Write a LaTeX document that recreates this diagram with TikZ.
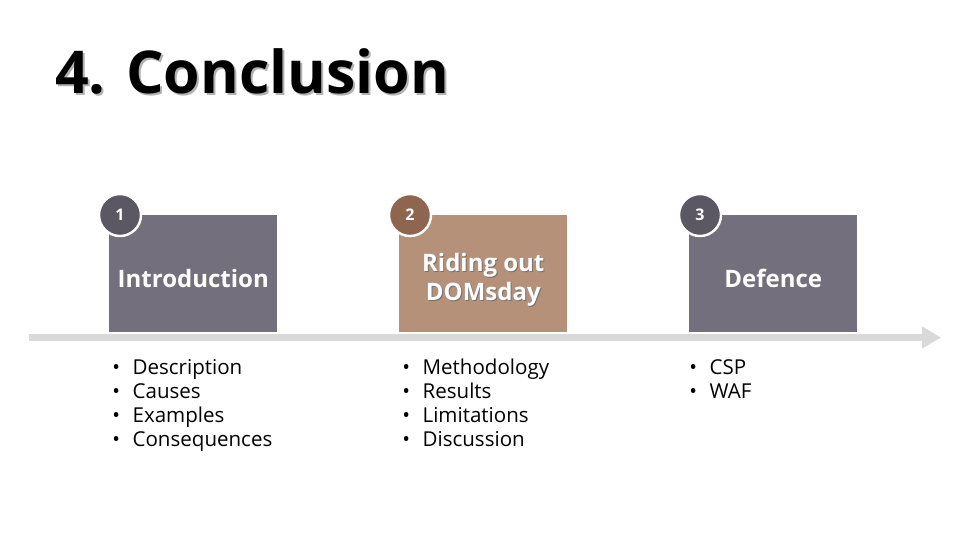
\documentclass[tikz,border=0pt]{standalone}
\usepackage{fontspec}
\setmainfont{Open Sans}
\usetikzlibrary{arrows.meta}
\definecolor{boxgray}{HTML}{736F7C}
\definecolor{boxbrown}{HTML}{B5917A}
\definecolor{circgray}{HTML}{5C5863}
\definecolor{circbrown}{HTML}{8E6650}
\definecolor{linegray}{HTML}{D9D9D9}
\tikzset{
  card/.style={minimum width=168*0.75pt, minimum height=117*0.75pt, inner sep=0pt, anchor=north west},
  badge/.style={circle, minimum size=42*0.75pt, inner sep=0pt, draw=white, line width=1.8pt, text=white, font=\bfseries\fontsize{12}{14}\selectfont},
  cardtext/.style={text=white, font=\bfseries\fontsize{18}{21.75}\selectfont, align=center},
  shadowtext/.style={text=black!55, font=\bfseries\fontsize{18}{21.75}\selectfont, align=center},
  bullets/.style={anchor=north west, align=left, font=\fontsize{15.4}{18}\selectfont, inner sep=0pt},
}
\newcommand{\blist}[1]{\begin{tabular}{@{}l@{\hspace{9.5pt}}l@{}}#1\end{tabular}}
\begin{document}
\begin{tikzpicture}[x=0.75pt, y=-0.75pt]
\useasboundingbox (0,0) rectangle (960,540);
% title
\node[anchor=west, inner sep=0pt, text=black!30, font=\bfseries\fontsize{44.3}{52}\selectfont] at (57,73) {4. Conclusion};
\node[anchor=west, inner sep=0pt, font=\bfseries\fontsize{44.3}{52}\selectfont] (title) at (55,71) {4. Conclusion};
% timeline arrow
\coordinate (tstart) at (29,337.5);
\coordinate (tend) at (941,337.5);
\draw[linegray, line width=7*0.75pt, -{Triangle[length=19*0.75pt, width=21*0.75pt]}] (tstart) -- (tend);
% cards
\node[card, fill=boxgray] (c1) at (109,215) {};
\node[card, fill=boxbrown] (c2) at (399,215) {};
\node[card, fill=boxgray] (c3) at (689,215) {};
% card labels
\node[shadowtext] at ([shift={(1,6)}]c1.center) {Introduction};
\node[cardtext] (l1) at ([shift={(0,5)}]c1.center) {Introduction};
\node[shadowtext] at ([shift={(1,7)}]c2.center) {Riding out\\DOMsday};
\node[cardtext] (l2) at ([shift={(0,6)}]c2.center) {Riding out\\DOMsday};
\node[shadowtext] at ([shift={(1,6)}]c3.center) {Defence};
\node[cardtext] (l3) at ([shift={(0,5)}]c3.center) {Defence};
% badges
\node[badge, fill=circgray] (b1) at (120,215) {1};
\node[badge, fill=circbrown] (b2) at (410,215) {2};
\node[badge, fill=circgray] (b3) at (700,215) {3};
% bullet lists
\node[bullets] (list1) at (112,357) {\blist{•&Description\\•&Causes\\•&Examples\\•&Consequences}};
\node[bullets] (list2) at (402,357) {\blist{•&Methodology\\•&Results\\•&Limitations\\•&Discussion}};
\node[bullets] (list3) at (689,357) {\blist{•&CSP\\•&WAF}};
\end{tikzpicture}
\end{document}
